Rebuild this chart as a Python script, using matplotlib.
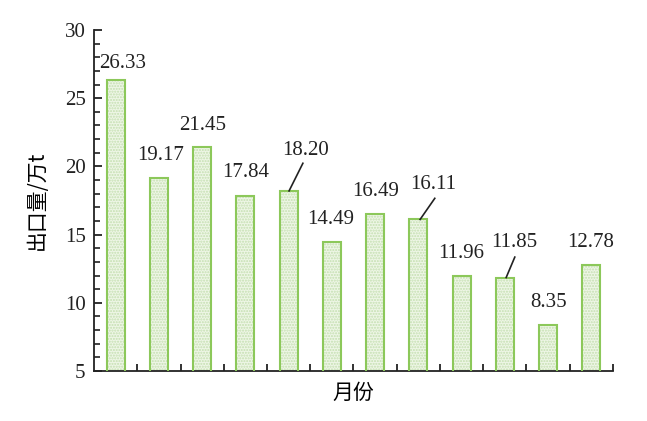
import matplotlib.pyplot as plt
from matplotlib.ticker import MultipleLocator

# data
months = list(range(1, 13))
values = [26.33, 19.17, 21.45, 17.84, 18.20, 14.49, 16.49, 16.11, 11.96, 11.85, 8.35, 12.78]
labels = ["26.33", "19.17", "21.45", "17.84", "18.20", "14.49", "16.49", "16.11",
          "11.96", "11.85", "8.35", "12.78"]

# label placement (data coords) and leader lines
label_x = [0.67, 1.53, 2.50, 3.50, 4.88, 5.48, 6.52, 7.84, 8.49, 9.71, 10.50, 11.49]
label_y = [27.18, 20.45, 22.64, 19.20, 20.81, 15.76, 17.81, 18.32, 13.27, 14.08, 9.69, 14.08]
leaders = {4: (4.83, 20.23, 4.51), 7: (7.88, 17.66, 7.54), 9: (9.73, 13.35, 9.53)}

plt.rcParams["font.family"] = ["Liberation Serif", "Noto Sans CJK SC"]
plt.rcParams["text.color"] = "#222222"
plt.rcParams["ytick.labelcolor"] = "#222222"

fig = plt.figure(figsize=(6.47, 4.21), dpi=100)
ax = fig.add_axes([0.1453, 0.1188, 0.8021, 0.8099])

xs = [m - 0.5 for m in months]
green = "#8cc85a"
ax.bar(xs, values, width=0.42, bottom=0, color="#eef6e6", edgecolor="#c4dfb0",
       hatch="......", linewidth=0, zorder=2)
ax.bar(xs, values, width=0.42, bottom=0, fill=False, edgecolor=green,
       linewidth=1.5, zorder=3)

for i, lab in enumerate(labels):
    ax.text(label_x[i], label_y[i], lab, ha="center", va="baseline", fontsize=15)
for i, (x0, y0, x1) in leaders.items():
    ax.plot([x0, x1], [y0, values[i]], color="#222222", lw=1.2, zorder=4)

ax.set_xlim(0, 12)
ax.set_ylim(5, 30)
ax.spines["top"].set_visible(False)
ax.spines["right"].set_visible(False)
for s in ["left", "bottom"]:
    ax.spines[s].set_linewidth(1.3)
    ax.spines[s].set_color("#222222")

ax.set_xticks(months)
ax.set_xticklabels([])
ax.yaxis.set_major_locator(MultipleLocator(5))
ax.yaxis.set_minor_locator(MultipleLocator(1))
ax.tick_params(axis="x", direction="in", length=5, width=1.3, color="#222222")
ax.tick_params(axis="y", which="major", direction="in", length=6, width=1.3,
               labelsize=15, color="#222222", pad=6)
ax.tick_params(axis="y", which="minor", direction="in", length=4, width=1.2,
               color="#222222")

ax.set_xlabel("月份", fontsize=15, family=["Noto Sans CJK SC"], labelpad=4)
ax.set_ylabel("出口量/万t", fontsize=15, family=["Noto Sans CJK SC", "DejaVu Sans"],
              labelpad=12)

fig.savefig("out.png", dpi=100)
